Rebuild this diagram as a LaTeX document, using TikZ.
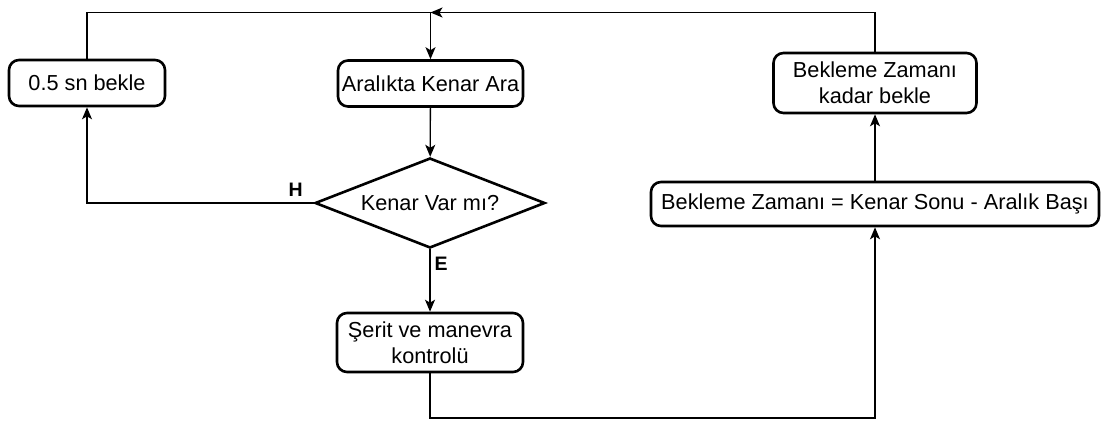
\documentclass[tikz,border=0pt]{standalone}
\usepackage{fontspec}
\setmainfont{Liberation Sans}
\usetikzlibrary{shapes.geometric,arrows.meta,calc}
\begin{document}
\begin{tikzpicture}[x=1pt,y=-1pt,
  every node/.style={font=\fontsize{21.7}{26}\selectfont, inner sep=0pt},
  procbox/.style={draw, line width=2.6pt, rounded corners=10pt, align=center},
  decision/.style={draw, line width=2.6pt, diamond, aspect=2.52, minimum width=230pt, minimum height=90pt},
  flow/.style={line width=1.3pt},
  arr/.style={flow, -{Stealth[length=12pt,width=10pt,inset=3pt]}},
  lbl/.style={font=\fontsize{19.5}{22}\selectfont\bfseries}]
\useasboundingbox (0,0) rectangle (1103,421);

\node[procbox, minimum width=156pt, minimum height=46pt] (wait) at (87,83) {0.5 sn bekle};
\node[procbox, minimum width=185pt, minimum height=46pt] (search) at (430.5,83.5) {Aralıkta Kenar Ara};
\node[decision] (check) at (430,203) {Kenar Var mı?};
\node[procbox, minimum width=186pt, minimum height=59pt] (lane) at (430,342.5) {Şerit ve manevra\\kontrolü};
\node[procbox, minimum width=448pt, minimum height=44pt] (calc) at (875,204) {Bekleme Zamanı = Kenar Sonu - Aralık Başı};
\node[procbox, minimum width=203pt, minimum height=60pt] (delay) at (875,83) {Bekleme Zamanı\\kadar bekle};

\coordinate (join) at (430.5,12.5);
\coordinate (bottom) at (0,418);

% main flow
\draw[arr] (join) -- (search);
\draw[arr] (search) -- (check);
\draw[arr] (check.south) -- (lane.north);
\draw[arr] (check.west) -| (wait.south);
\draw[arr] (lane.south) |- (bottom -| calc.south) -- (calc.south);
\draw[arr] (calc) -- (delay);
\draw[arr] (delay.north) |- (join);
\draw[flow] (wait.north) |- (join);

% branch labels
\node[lbl] (yes) at ($(check.south)+(11,14)$) {E};
\node[lbl] (no) at ($(check.west)+(-18,-13)$) {H};
\end{tikzpicture}
\end{document}
